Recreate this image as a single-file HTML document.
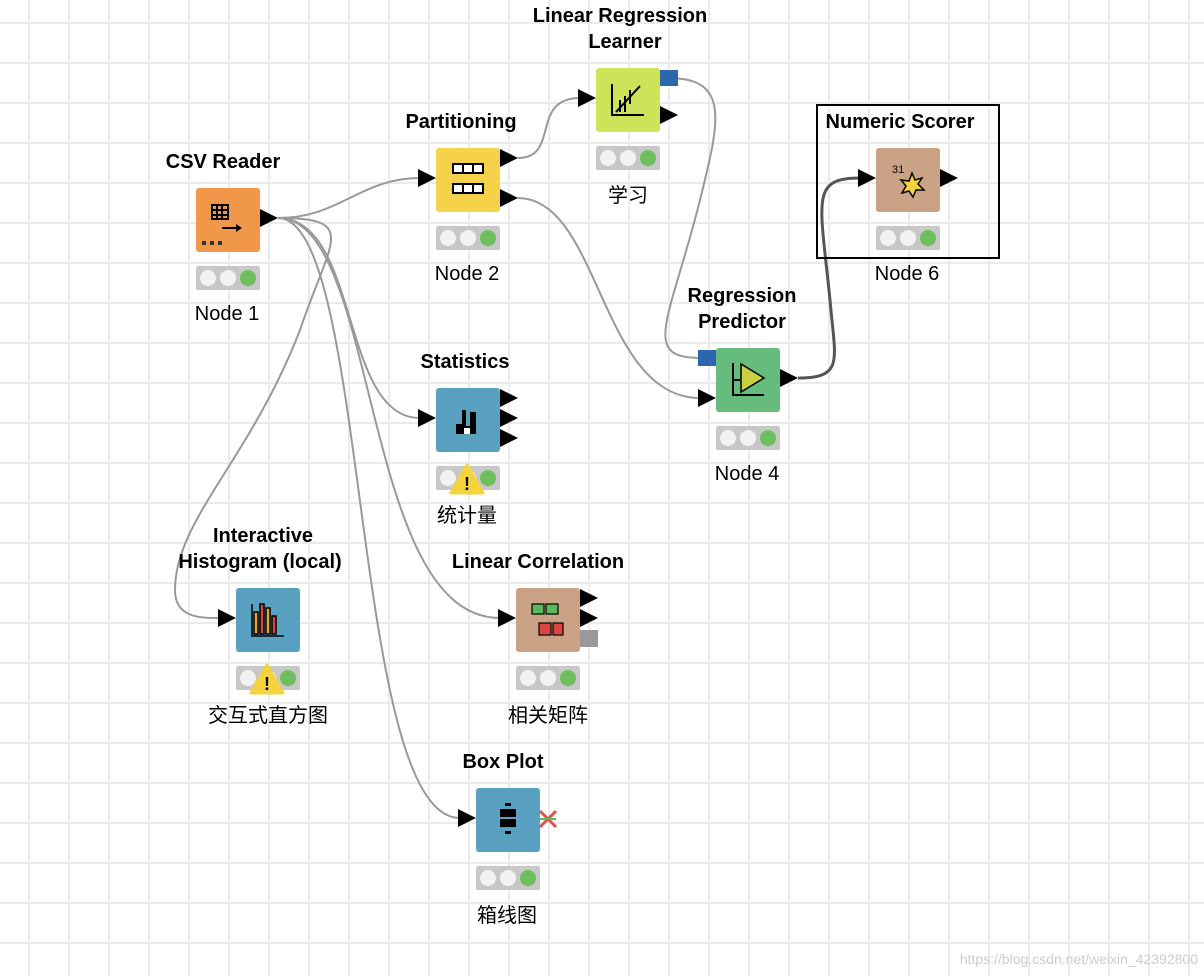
<!DOCTYPE html>
<html><head><meta charset="utf-8"><style>
html,body{margin:0;padding:0;background:#fff;}
svg{display:block;}
text{font-family:"Liberation Sans","Noto Sans CJK SC",sans-serif;}
.t{font-weight:bold;font-size:20px;text-anchor:middle;fill:#000;}
.l{font-size:20px;text-anchor:middle;fill:#000;}
.e{fill:none;stroke:#999;stroke-width:2;}
</style></head><body>
<svg width="1204" height="976" viewBox="0 0 1204 976" xmlns="http://www.w3.org/2000/svg">
<defs>
<pattern id="g" x="28" y="22" width="40" height="40" patternUnits="userSpaceOnUse">
<rect x="0" y="0" width="40" height="2" fill="#ebebeb"/><rect x="0" y="0" width="2" height="40" fill="#ebebeb"/>
</pattern>
<g id="st"><rect x="0" y="0" width="64" height="24" rx="2" fill="#c8c8c8"/><circle cx="12" cy="12" r="8" fill="#f2f2f2"/><circle cx="32" cy="12" r="8" fill="#f2f2f2"/><circle cx="52" cy="12" r="8" fill="#6cbf5c"/></g>
<path id="ar" d="M0 -9 L18 0 L0 9 Z" fill="#000"/>
<g id="warn"><path d="M0 -16 L16 12 L-16 12 Z" fill="#f5d33c" stroke="#f5d33c" stroke-linejoin="round" stroke-width="3"/><text x="0" y="9" font-size="18" font-weight="bold" text-anchor="middle">!</text></g>
</defs>
<rect width="1204" height="976" fill="url(#g)"/>

<!-- edges -->
<path class="e" d="M278 218 C340 218 360 178 420 178"/>
<path class="e" d="M278 218 C360 218 340 418 420 418"/>
<path class="e" d="M278 218 C380 218 360 618 500 618"/>
<path class="e" d="M278 218 C370 218 350 818 460 818"/>
<path class="e" d="M278 218 C360 218 330 240 300 330 C250 460 175 520 175 590 C175 618 200 618 220 618"/>
<path class="e" d="M518 158 C560 158 530 98 580 98"/>
<path class="e" d="M518 198 C600 198 600 398 700 398"/>
<path class="e" d="M668 78 C730 78 720 120 700 200 C670 320 640 358 700 358"/>
<path d="M798 378 C845 378 835 360 830 300 C820 200 810 178 860 178" fill="none" stroke="#555" stroke-width="3"/>

<!-- CSV Reader -->
<text class="t" x="223" y="168">CSV Reader</text>
<rect x="196" y="188" width="64" height="64" rx="3" fill="#f0974a"/>
<g stroke="#000" stroke-width="2" fill="none"><rect x="212" y="205" width="16" height="14"/><path d="M212 210H228M212 215H228M217 205V219M222 205V219M222 228H240"/></g>
<path d="M236 224 L242 228 L236 232Z" fill="#000"/>
<g fill="#333"><rect x="202" y="241" width="4" height="4"/><rect x="210" y="241" width="4" height="4"/><rect x="218" y="241" width="4" height="4"/></g>
<use href="#ar" x="260" y="218"/>
<use href="#st" x="196" y="266"/>
<text class="l" x="227" y="320">Node 1</text>

<!-- Partitioning -->
<text class="t" x="461" y="128">Partitioning</text>
<rect x="436" y="148" width="64" height="64" rx="3" fill="#f5d24a"/>
<g stroke="#000" stroke-width="2" fill="#fff"><rect x="453" y="164" width="30" height="9"/><rect x="453" y="184" width="30" height="9"/><path d="M463 164V173M473 164V173M463 184V193M473 184V193"/></g>
<use href="#ar" x="500" y="158"/><use href="#ar" x="500" y="198"/>
<use href="#ar" x="418" y="178"/>
<use href="#st" x="436" y="226"/>
<text class="l" x="467" y="280">Node 2</text>

<!-- Linear Regression Learner -->
<text class="t" x="620" y="22">Linear Regression</text>
<text class="t" x="625" y="48">Learner</text>
<rect x="596" y="68" width="64" height="64" rx="3" fill="#cde35a"/>
<g stroke="#000" stroke-width="2" fill="none"><path d="M612 84V115H644"/><path d="M616 112L640 86M620 112V100M625 112V96M630 104V90"/></g>
<rect x="660" y="70" width="18" height="16" fill="#2e66ad"/>
<use href="#ar" x="660" y="115"/><use href="#ar" x="578" y="98"/>
<use href="#st" x="596" y="146"/>
<text class="l" x="628" y="202">学习</text>

<!-- Numeric Scorer -->
<rect x="817" y="105" width="182" height="153" fill="none" stroke="#000" stroke-width="2"/>
<text class="t" x="900" y="128">Numeric Scorer</text>
<rect x="876" y="148" width="64" height="64" rx="3" fill="#caa387"/>
<text x="892" y="173" font-size="11" fill="#000">31</text>
<path d="M912 173 L915 180 L922 178 L918 184 L924 190 L916 190 L913 197 L909 191 L902 193 L906 186 L901 180 L909 181Z" fill="#f5d33c" stroke="#000" stroke-width="1.5"/>
<use href="#ar" x="940" y="178"/><use href="#ar" x="858" y="178"/>
<use href="#st" x="876" y="226"/>
<text class="l" x="907" y="280">Node 6</text>

<!-- Regression Predictor -->
<text class="t" x="742" y="302">Regression</text>
<text class="t" x="742" y="328">Predictor</text>
<rect x="716" y="348" width="64" height="64" rx="3" fill="#65bc7c"/>
<g stroke="#000" stroke-width="2" fill="none"><path d="M733 363V395H764M733 380H740"/></g>
<path d="M741 364 L764 378 L741 392Z" fill="#c8d040" stroke="#000" stroke-width="1.5"/>
<rect x="698" y="350" width="18" height="16" fill="#2e66ad"/>
<use href="#ar" x="780" y="378"/><use href="#ar" x="698" y="398"/>
<use href="#st" x="716" y="426"/>
<text class="l" x="747" y="480">Node 4</text>

<!-- Statistics -->
<text class="t" x="465" y="368">Statistics</text>
<rect x="436" y="388" width="64" height="64" rx="3" fill="#5aa0c0"/>
<path d="M462 410h4v16h4v-14h6v22h-20v-10h6z" fill="#000"/><rect x="464" y="428" width="6" height="6" fill="#fff"/>
<use href="#ar" x="500" y="398"/><use href="#ar" x="500" y="418"/><use href="#ar" x="500" y="438"/>
<use href="#ar" x="418" y="418"/>
<use href="#st" x="436" y="466"/>
<use href="#warn" x="467" y="481"/>
<text class="l" x="467" y="522">统计量</text>

<!-- Interactive Histogram -->
<text class="t" x="263" y="542">Interactive</text>
<text class="t" x="260" y="568">Histogram (local)</text>
<rect x="236" y="588" width="64" height="64" rx="3" fill="#5aa0c0"/>
<g stroke="#000" stroke-width="1.5"><rect x="254" y="612" width="4" height="22" fill="#e8a33a"/><rect x="260" y="604" width="4" height="30" fill="#d44"/><rect x="266" y="608" width="4" height="26" fill="#e8a33a"/><rect x="272" y="616" width="4" height="18" fill="#d44"/><path d="M252 604V636H284" fill="none"/></g>
<use href="#ar" x="218" y="618"/>
<use href="#st" x="236" y="666"/>
<use href="#warn" x="267" y="681"/>
<text class="l" x="268" y="722">交互式直方图</text>

<!-- Linear Correlation -->
<text class="t" x="538" y="568">Linear Correlation</text>
<rect x="516" y="588" width="64" height="64" rx="3" fill="#caa387"/>
<g stroke="#000" stroke-width="1.2"><rect x="532" y="604" width="12" height="10" fill="#5cb85c"/><rect x="546" y="604" width="12" height="10" fill="#5cb85c"/><rect x="539" y="623" width="12" height="12" fill="#d44"/><rect x="553" y="623" width="10" height="12" fill="#d44"/></g>
<use href="#ar" x="580" y="598"/><use href="#ar" x="580" y="618"/>
<rect x="580" y="630" width="18" height="17" fill="#999"/>
<use href="#ar" x="498" y="618"/>
<use href="#st" x="516" y="666"/>
<text class="l" x="548" y="722">相关矩阵</text>

<!-- Box Plot -->
<text class="t" x="503" y="768">Box Plot</text>
<rect x="476" y="788" width="64" height="64" rx="3" fill="#5aa0c0"/>
<g fill="#000"><rect x="505" y="803" width="6" height="3"/><rect x="500" y="809" width="16" height="8"/><rect x="500" y="819" width="16" height="8"/><rect x="505" y="831" width="6" height="3"/></g>
<path d="M540 811 L556 827 M556 811 L540 827" stroke="#d9534f" stroke-width="3"/>
<path d="M540 819 L556 819" stroke="#5cb85c" stroke-width="2"/>
<use href="#ar" x="458" y="818"/>
<use href="#st" x="476" y="866"/>
<text class="l" x="507" y="922">箱线图</text>

<text x="1198" y="964" font-size="14" fill="#ccc" text-anchor="end">https://blog.csdn.net/weixin_42392800</text>
</svg>
</body></html>
